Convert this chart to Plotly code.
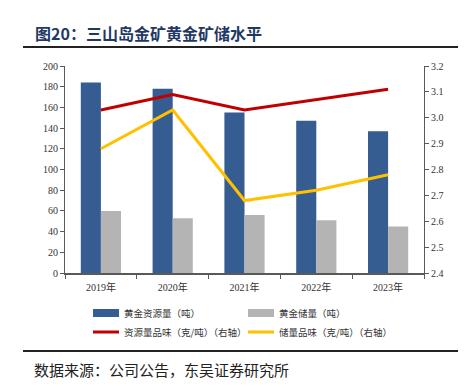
import plotly.graph_objects as go

years = ["2019年", "2020年", "2021年", "2022年", "2023年"]
resource_t = [184, 178, 155, 147, 137]
reserve_t = [60, 53, 56, 51, 45]
resource_grade = [3.03, 3.09, 3.03, 3.07, 3.11]
reserve_grade = [2.88, 3.03, 2.68, 2.72, 2.78]
names = ["黄金资源量（吨）", "黄金储量（吨）", "资源量品味（克/吨）（右轴）", "储量品味（克/吨）（右轴）"]
colors = ["#355D91", "#B4B4B4", "#C00000", "#FFC000"]

FONT = "Liberation Serif, Times New Roman, Noto Sans CJK SC, serif"
CJK = "Noto Sans CJK SC, sans-serif"

fig = go.Figure()
fig.add_trace(go.Bar(x=years, y=resource_t, name=names[0], marker=dict(color=colors[0], line=dict(width=0))))
fig.add_trace(go.Bar(x=years, y=reserve_t, name=names[1], marker=dict(color=colors[1], line=dict(width=0))))
fig.add_trace(go.Scatter(x=years, y=resource_grade, name=names[2], mode="lines",
                         line=dict(color=colors[2], width=3), yaxis="y2"))
fig.add_trace(go.Scatter(x=years, y=reserve_grade, name=names[3], mode="lines",
                         line=dict(color=colors[3], width=3), yaxis="y2"))

axcol = "#595959"
# page body has an 8px margin, so the figure is offset by 8px
fig.update_layout(
    width=458, height=381,
    margin=dict(l=57, r=42, t=58, b=116, autoexpand=False),
    paper_bgcolor="white", plot_bgcolor="white",
    showlegend=False,
    barmode="group", bargap=0.44, bargroupgap=0,
    font=dict(family=FONT, size=10, color="#333333"),
    xaxis=dict(showline=True, linecolor=axcol, linewidth=1.5, ticks="outside", tickson="boundaries",
               ticklen=4, tickcolor=axcol, tickfont=dict(family=FONT, size=10, color="#333333"),
               ticklabelstandoff=4, showgrid=False),
    yaxis=dict(range=[0, 200], dtick=20, showline=True, linecolor=axcol, linewidth=1, ticks="outside",
               ticklen=4, tickcolor=axcol, showgrid=False, zeroline=False,
               tickfont=dict(family=FONT, size=10, color="#333333")),
    yaxis2=dict(range=[2.4, 3.2], dtick=0.1, tickformat=".1f", overlaying="y", side="right",
                showline=True, linecolor=axcol, linewidth=1, ticks="outside", ticklen=4, tickcolor=axcol,
                showgrid=False, zeroline=False, tickfont=dict(family=FONT, size=10, color="#333333")),
)

def px_x(px):
    return (px - 65) / 359
def px_y(py):
    return (273 - py) / 207

shapes = []
annotations = []
annotations.append(dict(text="<b>图20：三山岛金矿黄金矿储水平</b>", xref="paper", yref="paper",
                        x=px_x(33), y=px_y(33), xanchor="left", yanchor="middle",
                        showarrow=False, font=dict(family=CJK, size=16, color="#1F3864")))

shapes.append(dict(type="line", xref="paper", yref="paper", x0=px_x(23), x1=px_x(466),
                   y0=px_y(47), y1=px_y(47), line=dict(color="#222222", width=2)))
shapes.append(dict(type="line", xref="paper", yref="paper", x0=px_x(23), x1=px_x(466),
                   y0=px_y(351), y1=px_y(351), line=dict(color="#222222", width=2)))
annotations.append(dict(text="数据来源：公司公告，东吴证券研究所", xref="paper", yref="paper",
                        x=px_x(32), y=px_y(369), xanchor="left", yanchor="middle", showarrow=False,
                        font=dict(family=CJK, size=15, color="#222222")))

leg = [(93, 313, 8), (248, 313, 8), (93, 332, 3), (248, 332, 3)]
for i, (lx, ly, h) in enumerate(leg):
    shapes.append(dict(type="line", xref="paper", yref="paper", x0=px_x(lx), x1=px_x(lx + 26),
                       y0=px_y(ly), y1=px_y(ly), line=dict(color=colors[i], width=h)))
    annotations.append(dict(text=names[i], xref="paper", yref="paper", x=px_x(lx + 29), y=px_y(ly),
                            xanchor="left", yanchor="middle", showarrow=False,
                            font=dict(family=CJK, size=9.5, color="#333333")))

fig.update_layout(shapes=shapes, annotations=annotations)
fig.write_html("out.html")
